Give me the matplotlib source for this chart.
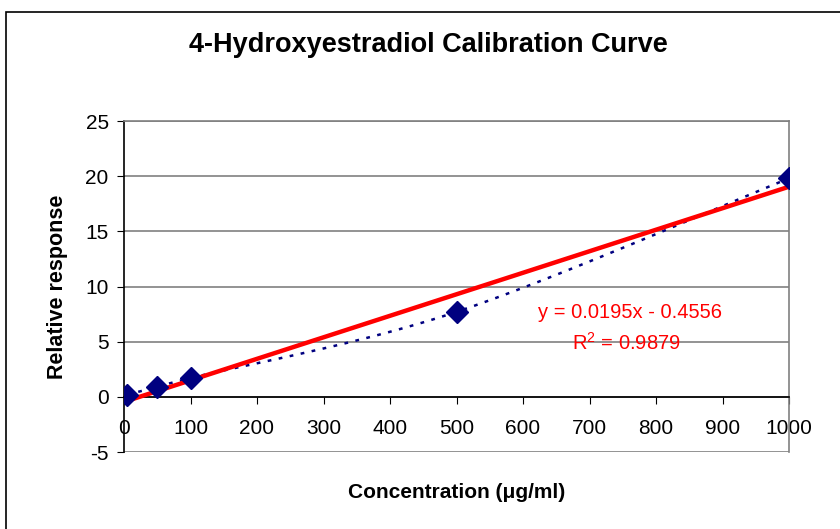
import numpy as np
import matplotlib.pyplot as plt
from matplotlib.patches import Rectangle

plt.rcParams['font.family'] = ['Liberation Sans', 'DejaVu Sans']
plt.rcParams['axes.unicode_minus'] = False

# data
conc = [5, 50, 100, 500, 1000]
resp = [0.2, 0.9, 1.7, 7.7, 19.8]
slope = 0.0195
intercept = -0.4556
r2 = 0.9879
xticks = [0, 100, 200, 300, 400, 500, 600, 700, 800, 900, 1000]
yticks = [-5, 0, 5, 10, 15, 20, 25]


def smooth_curve(xs, ys, sx, sy, n=30):
    # excel-like smoothed line (catmull-rom bezier) in roughly pixel space
    p = np.column_stack([np.array(xs) * sx, np.array(ys) * sy])
    out = []
    for i in range(len(p) - 1):
        p0 = p[i - 1] if i > 0 else p[i]
        p1 = p[i]
        p2 = p[i + 1]
        p3 = p[i + 2] if i + 2 < len(p) else p[i + 1]
        c1 = p1 + (p2 - p0) / 6.0
        c2 = p2 - (p3 - p1) / 6.0
        t = np.linspace(0, 1, n)[:, None]
        seg = ((1 - t) ** 3) * p1 + 3 * ((1 - t) ** 2) * t * c1 + 3 * (1 - t) * t ** 2 * c2 + t ** 3 * p2
        out.append(seg)
    out = np.vstack(out)
    return out[:, 0] / sx, out[:, 1] / sy


fig = plt.figure(figsize=(8.4, 5.29), dpi=100)
# chart area frame (runs off the right and bottom edges)
fig.patches.append(Rectangle((6 / 840, -0.05), 1.0, 1 + 0.05 - 12 / 529,
                             transform=fig.transFigure, fill=False,
                             edgecolor='black', linewidth=1.2))

ax = fig.add_axes([124 / 840, 1 - 452 / 529, 665 / 840, 331 / 529])
ax.set_xlim(0, 1000)
ax.set_ylim(-5, 25)

for yv in yticks:
    ax.axhline(yv, color='#808080', linewidth=1.2, zorder=0)

sx_, sy_ = smooth_curve(conc, resp, 0.665, 11.04)
ax.plot(sx_, sy_, color='#000080', linestyle=(0, (1.5, 3)), linewidth=1.8, zorder=2)

tx = np.array([min(conc), max(conc)])
ax.plot(tx, slope * tx + intercept, color='#ff0000', linewidth=3.2,
        solid_capstyle='butt', zorder=3)

ax.plot(conc, resp, linestyle='none', marker='D', markersize=11,
        color='#000080', zorder=4)

ax.spines['top'].set_color('#808080')
ax.spines['right'].set_color('#808080')
ax.spines['top'].set_linewidth(1.2)
ax.spines['right'].set_linewidth(1.2)
ax.spines['bottom'].set_position(('data', 0))
ax.spines['bottom'].set_linewidth(1.2)
ax.spines['left'].set_linewidth(1.2)

ax.set_xticks(xticks)
ax.set_yticks(yticks)
ax.tick_params(axis='x', direction='out', length=5, labelsize=15, pad=11)
ax.tick_params(axis='y', direction='out', length=5, labelsize=15, pad=6)

ax.set_xlabel('Concentration (\u03bcg/ml)', fontsize=15, fontweight='bold')
ax.set_ylabel('Relative response', fontsize=15.5, fontweight='bold')
ax.xaxis.set_label_coords(0.5, -(492 - 452) / 331, transform=ax.transAxes)
ax.xaxis.label.set_va('center')
ax.yaxis.set_label_coords(-(124 - 57) / 665, 0.5)
ax.yaxis.label.set_va('center')

fig.text(428 / 840, 1 - 45 / 529, '4-Hydroxyestradiol Calibration Curve',
         ha='center', va='center', fontsize=19.5, fontweight='bold')

ax.text(761, 7.6, 'y = %.4fx - %.4f' % (slope, -intercept), color='#ff0000',
        fontsize=14.5, ha='center', va='center')
ax.text(755, 4.9, '$\\mathregular{R^2}$ = %.4f' % r2, color='#ff0000',
        fontsize=14.5, ha='center', va='center')

fig.savefig('out.png', dpi=100)
